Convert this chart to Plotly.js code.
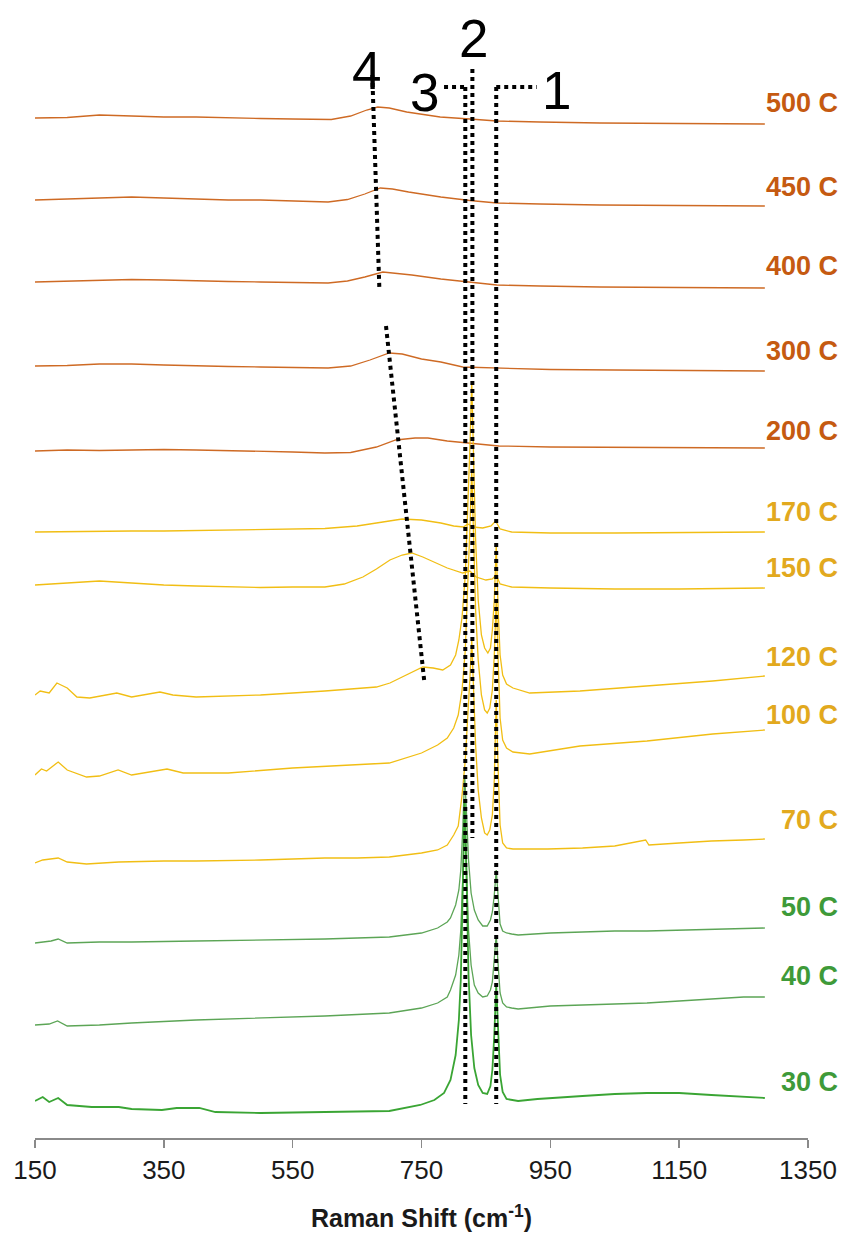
<!DOCTYPE html>
<html>
<head>
<meta charset="utf-8">
<script src="https://cdn.plot.ly/plotly-3.0.1.min.js"></script>
<style>html,body{margin:0;padding:0;background:#fff;}#chart{width:846px;height:1241px;}</style>
</head>
<body>
<div id="chart"></div>
<script>
// Raman shift (cm-1) and stacked intensity (a.u., offset per temperature)
const wn500 = [150,200,250,300,350,400,450,500,550,610,640,665,682,700,727,779,825,867,934,1027,1150,1283];
const int500 = [1020,1020.5,1023,1022,1021,1021,1020,1019.5,1019,1018.5,1022,1028,1031,1030,1026,1021,1019,1017,1016,1015,1014.5,1014];

const wn450 = [150,200,250,300,350,400,450,500,550,605,635,662,686,705,730,780,825,867,934,1027,1150,1283];
const int450 = [938,939,940.5,941,940,939,938,938,937,936,938.5,944,950,949,946,941,937.5,935,934,933,932.5,932];

const wn400 = [150,200,250,300,350,400,450,500,550,605,635,662,690,710,735,780,825,867,934,1027,1150,1283];
const int400 = [856,857,858,858.5,858,857,856.5,856,855.5,855,857,861,866,865,863,859,856,853,852,851,850.5,850];

const wn300 = [150,200,250,300,350,400,450,500,550,605,640,670,700,720,750,780,814,840,870,950,1050,1150,1283];
const int300 = [772,772.5,774,774,773,772,771.5,771,770.5,770,772,778,785,784,779,776,771,770.5,770,768.5,768,767.5,767];

const wn200 = [150,200,250,300,350,400,450,500,550,600,640,680,710,740,760,790,820,850,870,950,1050,1150,1283];
const int200 = [687,688,687.5,688,688.5,688,687.5,687,686,685,685.5,691,698,700,700,697,695,693,692,691,690.5,690,690];

const wn170 = [150,200,250,300,350,400,450,500,550,600,650,690,720,750,780,800,815,822,830,845,858,865,872,890,950,1050,1150,1283];
const int170 = [606,606.5,607,607,607,607.5,608,608,608.5,609.5,612,616,619,618,615,612,611,614,611,610,612,617,609,606,605,605,605.5,606];

const wn150 = [150,200,250,300,350,400,450,500,550,600,630,659,680,701,720,735,752,790,814,825,835,850,860,866,872,890,950,1050,1150,1283];
const int150 = [553,555,557,555,553,552,551,550.5,551,551,554,561,569,578,583,585,581,570,565,567,561,558,559,563,554,551,550,549,549,550];

const wn120 = [150,158,172,184,200,215,235,277,300,344,364,400,500,600,680,701,720,737,752,768,783,795,803,808,813,818,822,825,828,831,834,838,843,848,853,857,860,863,866,869,872,876,882,892,918,996,1100,1202,1283];
const int120 = [443,447,445,455,450,441,440,445,441,446,443,441,443,447,451,455,461,466,471,470,468,473,483,498,521,563,628,688,755,678,598,538,503,490,485,490,508,538,593,528,483,463,454,450,445,447,452,457,462];

const wn100 = [150,160,168,186,200,230,250,279,300,355,380,450,550,650,700,750,775,790,800,807,813,818,822,825,828,831,834,838,843,848,852,856,860,863,866,869,872,876,882,892,918,996,1100,1202,1283];
const int100 = [363,369,367,376,368,361,362,368,363,369,365,365,370,373,375,385,393,400,410,423,448,488,548,608,668,598,528,478,443,428,425,430,448,483,538,478,420,398,390,386,384,392,397,404,408];

const wn70 = [150,162,186,200,230,280,350,400,500,600,650,700,750,775,790,800,807,813,818,822,825,828,831,834,838,843,848,852,856,860,863,866,869,872,876,882,892,946,1000,1050,1098,1103,1150,1200,1250,1283];
const int70 = [275,278,280,276,274,276,277,277,278,280,280,281,285,288,293,303,312,343,378,418,458,498,448,393,348,320,305,303,308,323,358,438,368,313,295,290,289,289,290,292,298,293,295,297,298,299];

const wn50 = [150,175,186,200,250,300,400,500,600,700,750,775,790,795,803,808,811,814,817,820,823,827,832,838,845,852,857,860,863,866,869,872,876,882,890,900,950,1000,1050,1100,1150,1200,1250,1283];
const int50 = [195,197,199,195,196,196,197,198,199,201,205,210,216,220,233,248,268,308,363,323,278,245,228,218,212,212,218,226,243,268,238,214,207,205,204,203,205,206,207,207,208,209,210,210];

const wn40 = [150,172,185,200,250,300,400,500,600,700,750,775,790,795,803,808,811,814,817,820,823,827,832,838,845,852,857,860,863,866,869,872,876,882,890,900,950,1000,1050,1100,1150,1200,1250,1283];
const int40 = [113,114,117,112,113,115,118,120,122,125,130,135,141,148,163,183,208,258,328,268,208,173,153,145,141,142,148,156,178,203,173,145,135,131,130,129,132,133,134,135,137,139,141,141];

const wn30 = [150,162,172,186,200,238,280,300,347,370,405,430,500,600,700,748,770,785,795,803,808,811,814,817,820,823,827,832,838,845,852,857,860,863,866,869,872,876,882,900,930,1000,1050,1100,1150,1200,1250,1283];
const int30 = [37,41,36,40,33,31,31,29,28,30,30,26,25,26,27,33,38,45,58,83,118,158,238,338,258,163,103,70,53,45,44,52,68,103,153,108,63,46,39,37,39,42,44,45,45,43,41,40];

const tempLabels = ["500 C","450 C","400 C","300 C","200 C","170 C","150 C","120 C","100 C","70 C","50 C","40 C","30 C"];
const xTicks = [150,350,550,750,950,1150,1350];
const bandLabels = ["1","2","3","4"];

// ---- styling / layout (not data) ----
const ORANGE_L = "#CE6A24", ORANGE_T = "#C55A11";
const YELLOW_L = "#F1BE14", YELLOW_T = "#E2A91E";
const GREEN_L = "#5CA556", GREEN30_L = "#3AA534", GREEN_T = "#3E9A39";

const series = [
  [wn500,int500,ORANGE_L,ORANGE_T,1.3],
  [wn450,int450,ORANGE_L,ORANGE_T,1.3],
  [wn400,int400,ORANGE_L,ORANGE_T,1.3],
  [wn300,int300,ORANGE_L,ORANGE_T,1.3],
  [wn200,int200,ORANGE_L,ORANGE_T,1.3],
  [wn170,int170,YELLOW_L,YELLOW_T,1.3],
  [wn150,int150,YELLOW_L,YELLOW_T,1.3],
  [wn120,int120,YELLOW_L,YELLOW_T,1.3],
  [wn100,int100,YELLOW_L,YELLOW_T,1.3],
  [wn70,int70,YELLOW_L,YELLOW_T,1.3],
  [wn50,int50,GREEN_L,GREEN_T,1.3],
  [wn40,int40,GREEN_L,GREEN_T,1.3],
  [wn30,int30,GREEN30_L,GREEN_T,1.8]
];
const labelY = [1035,951,872,787,707,626,570,481,423,318,231,162,56];

const traces = series.map((s,i)=>({
  x: s[0], y: s[1], type: "scatter", mode: "lines",
  line: {color: s[2], width: s[4]}, name: tempLabels[i], hoverinfo: "skip"
}));

const annotations = series.map((s,i)=>({
  xref: "paper", x: 1.0414, xanchor: "right",
  yref: "y", y: labelY[i], yanchor: "middle",
  text: "<b>" + tempLabels[i] + "</b>", showarrow: false,
  font: {family: "Liberation Sans, Arial, sans-serif", size: 27, color: s[3]}
}));

const bandPos = [[960,1048],[830,1100],[754,1046],[665,1068]];
bandLabels.forEach((t,i)=>annotations.push({
  xref: "x", yref: "y", x: bandPos[i][0], y: bandPos[i][1],
  xanchor: "center", yanchor: "middle", showarrow: false, text: t,
  font: {family: "Liberation Sans, Arial, sans-serif", size: 53, color: "#000"}
}));

const dl = {color: "#000", width: 4, dash: "dot"};
const seg = (x0,y0,x1,y1)=>({type:"line", xref:"x", yref:"y", x0, y0, x1, y1, line: dl, layer: "above"});
const shapes = [
  seg(818,1051,818,34),
  seg(829,1069,829,300),
  seg(866,1051,866,34),
  seg(785,1051,818,1051),
  seg(866,1051,929,1051),
  seg(673.6,1063,684.5,851),
  seg(694.9,812,754.6,455)
];

const layout = {
  width: 846, height: 1241,
  margin: {l: 35, r: 38, t: 0, b: 103},
  paper_bgcolor: "#fff", plot_bgcolor: "#fff",
  showlegend: false,
  xaxis: {
    range: [150,1350], tickvals: xTicks, ticktext: xTicks.map(String),
    showgrid: false, zeroline: false, showline: true,
    linecolor: "#8a8a8a", linewidth: 1.5,
    ticks: "outside", ticklen: 8, tickwidth: 1.5, tickcolor: "#8a8a8a",
    ticklabelstandoff: 0,
    tickfont: {family: "Liberation Sans, Arial, sans-serif", size: 26, color: "#1a1a1a"},
    title: {text: "<b>Raman Shift (cm<sup>-1</sup>)</b>", standoff: 26,
      font: {family: "Liberation Sans, Arial, sans-serif", size: 25, color: "#1a1a1a"}}
  },
  yaxis: {range: [0,1138], visible: false, showgrid: false, zeroline: false},
  annotations: annotations,
  shapes: shapes
};

Plotly.newPlot("chart", traces, layout, {displayModeBar: false, staticPlot: true});
</script>
</body>
</html>
